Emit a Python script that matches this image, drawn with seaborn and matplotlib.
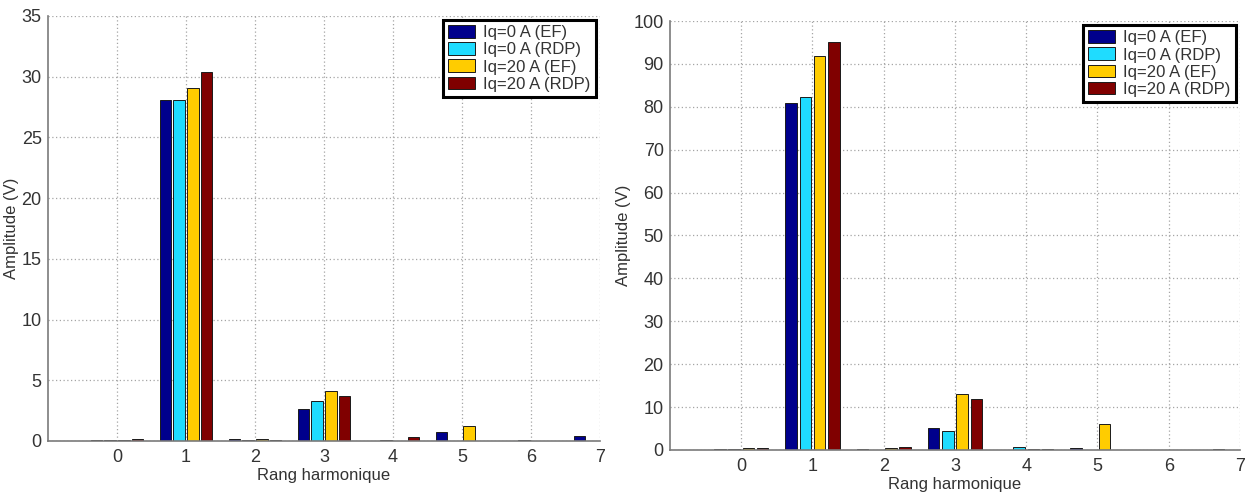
import matplotlib
matplotlib.use("Agg")
import matplotlib.pyplot as plt
import numpy as np
import pandas as pd
import seaborn as sns

# ---------------------------------------------------------------------------
# Data
# ---------------------------------------------------------------------------
RANKS = [0, 1, 2, 3, 4, 5, 6, 7]
SERIES = ["Iq=0 A (EF)", "Iq=0 A (RDP)", "Iq=20 A (EF)", "Iq=20 A (RDP)"]
COLORS = ["#00008c", "#1fdcff", "#ffcc00", "#800000"]

left_iq0_ef = [0.10, 28.1, 0.15, 2.6, 0.0, 0.75, 0.0, 0.45]
left_iq0_rdp = [0.10, 28.1, 0.10, 3.3, 0.10, 0.0, 0.05, 0.0]
left_iq20_ef = [0.10, 29.1, 0.15, 4.1, 0.0, 1.25, 0.0, 0.0]
left_iq20_rdp = [0.15, 30.4, 0.05, 3.7, 0.35, 0.0, 0.0, 0.0]

right_iq0_ef = [0.30, 81.0, 0.30, 5.2, 0.0, 0.40, 0.0, 0.30]
right_iq0_rdp = [0.30, 82.3, 0.0, 4.5, 0.70, 0.0, 0.10, 0.0]
right_iq20_ef = [0.50, 91.8, 0.50, 13.1, 0.30, 6.1, 0.0, 0.0]
right_iq20_rdp = [0.40, 95.0, 0.70, 11.8, 0.30, 0.0, 0.0, 0.0]

LEFT_YTICKS = np.arange(0, 36, 5)
RIGHT_YTICKS = np.arange(0, 101, 10)


def to_long(series_values):
    rows = []
    for name, vals in zip(SERIES, series_values):
        for r, v in zip(RANKS, vals):
            rows.append({"rang": r, "serie": name, "amp": v})
    return pd.DataFrame(rows)


def draw(ax, df, yticks):
    sns.barplot(
        data=df, x="rang", y="amp", hue="serie", hue_order=SERIES,
        palette=COLORS, width=0.8, gap=0.18, edgecolor="#1a1a1a",
        linewidth=0.7, saturation=1, ax=ax,
    )
    ax.set_xlim(-1, 7)
    ax.set_ylim(yticks[0], yticks[-1])
    ax.set_yticks(yticks)
    ax.set_xticks(RANKS)
    ax.set_xticklabels([str(r) for r in RANKS])
    ax.grid(True, linestyle=(0, (1, 2)), color="#a5a5a5", linewidth=0.9)
    ax.set_axisbelow(True)
    for s in ("top", "right"):
        ax.spines[s].set_visible(False)
    for s in ("left", "bottom"):
        ax.spines[s].set_color("#7a7a7a")
        ax.spines[s].set_linewidth(1.2)
    ax.tick_params(colors="#7a7a7a", labelcolor="#333333", labelsize=13,
                   length=3.5, width=1)
    ax.tick_params(axis="x", pad=2.5)
    ax.tick_params(axis="y", pad=1)
    ax.set_xlabel("Rang harmonique", fontsize=12, color="#333333", labelpad=1)
    ax.set_ylabel("Amplitude (V)", fontsize=12, color="#333333", labelpad=2)
    sns.move_legend(
        ax, "upper right", title=None, frameon=True, fancybox=False,
        edgecolor="black", framealpha=1, fontsize=12, borderaxespad=0.25,
        handlelength=1.6, handleheight=0.8, handletextpad=0.5,
        labelspacing=0.12, borderpad=0.3,
    )
    leg = ax.get_legend()
    leg.get_frame().set_linewidth(2.2)
    for t in leg.get_texts():
        t.set_color("#333333")


sns.set_style("white")
plt.rcParams["font.family"] = ["Liberation Sans", "DejaVu Sans"]

fig = plt.figure(figsize=(12.49, 4.92), dpi=100)
ax_l = fig.add_axes([0.0384, 0.1037, 0.4420, 0.8638])
ax_r = fig.add_axes([0.5364, 0.0854, 0.4564, 0.8719])

draw(ax_l, to_long([left_iq0_ef, left_iq0_rdp, left_iq20_ef, left_iq20_rdp]),
     LEFT_YTICKS)
draw(ax_r, to_long([right_iq0_ef, right_iq0_rdp, right_iq20_ef, right_iq20_rdp]),
     RIGHT_YTICKS)

fig.savefig("out.png", dpi=100)
